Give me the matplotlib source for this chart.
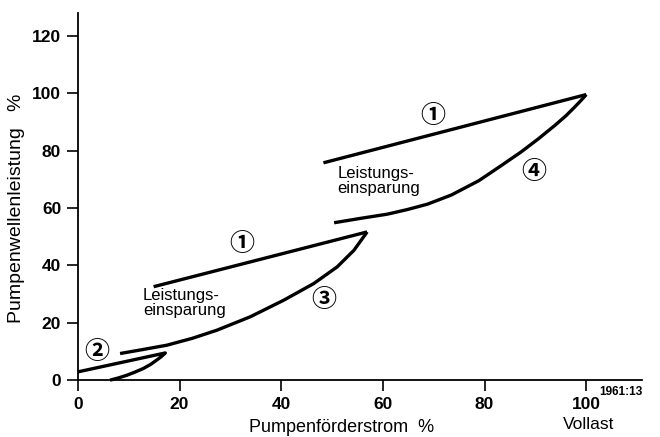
import matplotlib
matplotlib.use('Agg')
import matplotlib.pyplot as plt

plt.rcParams['font.family'] = ['Liberation Sans', 'Noto Sans CJK SC', 'DejaVu Sans']

drossel_unten_x = [14.9, 56.9]
drossel_unten_y = [32.6, 51.7]
drossel_oben_x = [48.3, 100.0]
drossel_oben_y = [75.8, 99.6]

bypass_x = [0.0, 17.2, 16.4, 15.5, 14.3, 12.9, 11.2, 9.6, 8.0, 6.3]
bypass_y = [2.9, 9.5, 8.2, 7.0, 5.5, 4.1, 2.8, 1.7, 0.8, 0.0]

drehzahl_unten_x = [8.3, 12.5, 17.5, 22.5, 27.3, 33.9, 40.5, 46.4, 51.0, 54.3, 56.9]
drehzahl_unten_y = [9.3, 10.6, 12.2, 14.6, 17.4, 22.1, 27.9, 33.7, 39.5, 45.3, 51.7]

drehzahl_oben_x = [50.4, 55.5, 60.9, 64.8, 68.8, 73.5, 78.9, 83.0, 87.2, 90.6, 93.8, 96.0, 97.7, 99.0, 100.0]
drehzahl_oben_y = [54.9, 56.4, 57.9, 59.5, 61.4, 64.6, 69.6, 74.5, 79.6, 84.2, 88.8, 92.2, 95.2, 97.6, 99.6]

x_ticks = [0, 20, 40, 60, 80, 100]
y_ticks = [0, 20, 40, 60, 80, 100, 120]

fig = plt.figure(figsize=(6.6, 4.37), dpi=100)
ax = fig.add_axes([0.118, 0.130, 0.855, 0.840])

for xs, ys in [(drossel_unten_x, drossel_unten_y), (drossel_oben_x, drossel_oben_y),
               (bypass_x, bypass_y), (drehzahl_unten_x, drehzahl_unten_y),
               (drehzahl_oben_x, drehzahl_oben_y)]:
    ax.plot(xs, ys, color='black', lw=2.4, solid_capstyle='butt', solid_joinstyle='round',
            clip_on=False)

ax.set_xlim(0, 111)
ax.set_ylim(0, 128)
ax.spines['top'].set_visible(False)
ax.spines['right'].set_visible(False)
ax.spines['left'].set_linewidth(1.3)
ax.spines['bottom'].set_linewidth(1.3)
ax.set_xticks(x_ticks)
ax.set_yticks(y_ticks)
ax.tick_params(direction='out', length=8, width=1.2, labelsize=12.5, pad=4)
for lab in ax.get_xticklabels() + ax.get_yticklabels():
    lab.set_fontweight('bold')

ax.set_xlabel('Pumpenförderstrom  %', fontsize=13)
ax.set_ylabel('Pumpenwellenleistung   %', fontsize=14)
ax.xaxis.set_label_coords(0.468, -0.105)
ax.yaxis.set_label_coords(-0.094, 0.467)

# Beschriftungen
ax.text(12.8, 32.3, 'Leistungs-\neinsparung', fontsize=12, va='top', ha='left', linespacing=1.05)
ax.text(51.0, 74.8, 'Leistungs-\neinsparung', fontsize=12, va='top', ha='left', linespacing=1.05)
for s, x, y in [('①', 32.3, 47.5), ('①', 69.8, 92.0), ('②', 3.7, 9.8),
                ('③', 48.3, 28.0), ('④', 89.7, 72.7)]:
    ax.text(x, y, s, fontsize=18, fontweight='bold', ha='center', va='center')

ax.text(111, -2.0, '1961:13', fontsize=8.5, fontweight='bold', ha='right', va='top')
ax.text(100.5, -13.0, 'Vollast', fontsize=12.5, ha='center', va='top')

fig.savefig('out.png', dpi=100)
